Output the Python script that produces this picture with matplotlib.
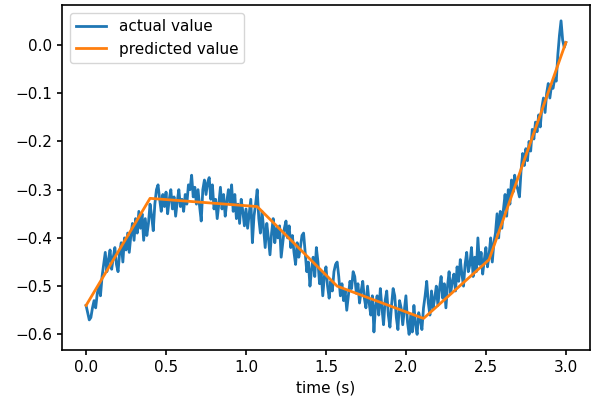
import matplotlib
matplotlib.use('Agg')
import matplotlib.pyplot as plt
import numpy as np

actual = [
    -0.540, -0.555, -0.570, -0.565, -0.545, -0.530, -0.545, -0.515, -0.500, -0.520,
    -0.480, -0.455, -0.430, -0.470, -0.445, -0.425, -0.465, -0.440, -0.420, -0.455,
    -0.470, -0.430, -0.410, -0.450, -0.400, -0.425, -0.390, -0.430, -0.395, -0.370,
    -0.405, -0.360, -0.390, -0.345, -0.380, -0.350, -0.405, -0.360, -0.395, -0.370,
    -0.330, -0.355, -0.385, -0.330, -0.300, -0.290, -0.320, -0.345, -0.310, -0.335,
    -0.305, -0.350, -0.320, -0.300, -0.340, -0.315, -0.355, -0.325, -0.300, -0.335,
    -0.320, -0.345, -0.310, -0.330, -0.290, -0.300, -0.270, -0.315, -0.295, -0.330,
    -0.300, -0.335, -0.365, -0.300, -0.280, -0.310, -0.285, -0.275, -0.320, -0.290,
    -0.340, -0.320, -0.360, -0.330, -0.295, -0.340, -0.310, -0.355, -0.325, -0.300,
    -0.330, -0.290, -0.345, -0.310, -0.360, -0.330, -0.370, -0.320, -0.345, -0.375,
    -0.340, -0.380, -0.350, -0.320, -0.410, -0.355, -0.330, -0.300, -0.360, -0.390,
    -0.345, -0.380, -0.420, -0.370, -0.400, -0.435, -0.390, -0.360, -0.410, -0.380,
    -0.400, -0.375, -0.440, -0.410, -0.380, -0.365, -0.400, -0.375, -0.420, -0.395,
    -0.430, -0.455, -0.410, -0.440, -0.420, -0.395, -0.390, -0.430, -0.470, -0.450,
    -0.500, -0.465, -0.440, -0.480, -0.420, -0.450, -0.495, -0.470, -0.520, -0.480,
    -0.460, -0.500, -0.525, -0.490, -0.510, -0.470, -0.455, -0.450, -0.480, -0.520,
    -0.495, -0.530, -0.510, -0.550, -0.520, -0.490, -0.505, -0.470, -0.480, -0.515,
    -0.495, -0.535, -0.510, -0.490, -0.525, -0.545, -0.500, -0.535, -0.560, -0.520,
    -0.595, -0.540, -0.520, -0.560, -0.505, -0.545, -0.580, -0.530, -0.510, -0.560,
    -0.585, -0.540, -0.505, -0.520, -0.565, -0.590, -0.530, -0.545, -0.580, -0.550,
    -0.520, -0.575, -0.600, -0.560, -0.595, -0.540, -0.580, -0.600, -0.555, -0.570,
    -0.590, -0.545, -0.520, -0.490, -0.535, -0.560, -0.510, -0.545, -0.525, -0.500,
    -0.540, -0.505, -0.480, -0.525, -0.495, -0.545, -0.500, -0.470, -0.515, -0.490,
    -0.475, -0.510, -0.460, -0.490, -0.445, -0.475, -0.500, -0.455, -0.430, -0.470,
    -0.455, -0.420, -0.480, -0.440, -0.470, -0.400, -0.455, -0.430, -0.475, -0.445,
    -0.420, -0.460, -0.435, -0.400, -0.450, -0.410, -0.390, -0.350, -0.400, -0.345,
    -0.380, -0.340, -0.310, -0.355, -0.300, -0.330, -0.280, -0.305, -0.270, -0.290,
    -0.300, -0.315, -0.260, -0.225, -0.250, -0.215, -0.240, -0.200, -0.220, -0.175,
    -0.195, -0.160, -0.180, -0.145, -0.170, -0.130, -0.110, -0.140, -0.100, -0.080,
    -0.110, -0.085, -0.090, -0.070, -0.075, -0.020, 0.020, 0.050, 0.010, -0.005,
    0.005,
]
t_actual = np.arange(len(actual)) * 0.01

# piecewise linear prediction (knots)
t_pred = [0.0, 0.40, 1.07, 1.57, 2.11, 2.52, 3.0]
predicted = [-0.540, -0.318, -0.335, -0.500, -0.567, -0.445, 0.005]

plt.rcParams['font.size'] = 11
plt.rcParams['axes.linewidth'] = 1.2
plt.rcParams['xtick.major.width'] = 1.2
plt.rcParams['ytick.major.width'] = 1.2

fig = plt.figure(figsize=(5.97, 3.96), dpi=100)
ax = fig.add_subplot(111)
ax.plot(t_actual, actual, color='tab:blue', lw=2, label='actual value')
ax.plot(t_pred, predicted, color='tab:orange', lw=2, label='predicted value')
ax.legend(loc='upper left')
ax.set_xlabel('time (s)')
fig.subplots_adjust(left=0.104, right=0.988, top=0.987, bottom=0.116)
fig.savefig('out.png')
